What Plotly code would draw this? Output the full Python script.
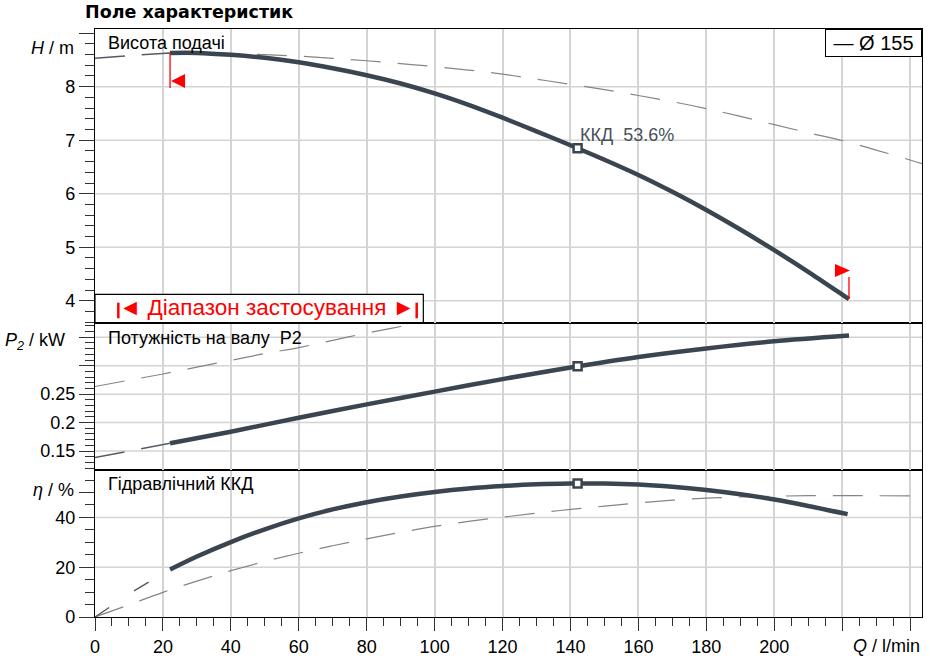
import plotly.graph_objects as go

# Pump curve field, impeller Ø 155, Q in l/min
q_range = [22.1, 222.0]   # operating range (red markers)
q_bep = 142.1             # best efficiency point
h_bep = 6.85
p2_bep = 0.299
eta_bep = 53.6

# Висота подачі, H / m
q_h = [22.1, 30, 40, 50, 60, 70, 80, 90, 100, 110, 120, 130, 140, 150, 160, 170, 180, 190, 200, 210, 220, 222]
h = [8.63, 8.63, 8.595, 8.54, 8.455, 8.345, 8.215, 8.06, 7.875, 7.66, 7.42, 7.165, 6.905, 6.635, 6.35, 6.035,
     5.695, 5.33, 4.945, 4.54, 4.115, 4.03]
q_h_ext = [0, 11, 22.1]
h_ext = [8.53, 8.585, 8.63]
q_h_alt = [20, 30, 40, 50, 60, 70, 80, 90, 100, 110, 120, 130, 140, 150, 160, 170, 180, 190, 200, 210, 220, 230, 240, 244]
h_alt = [8.62, 8.63, 8.62, 8.60, 8.57, 8.53, 8.485, 8.43, 8.375, 8.31, 8.235, 8.14, 8.045, 7.945, 7.835, 7.72,
         7.59, 7.445, 7.29, 7.14, 6.995, 6.815, 6.63, 6.55]

# Потужність на валу P2, kW
q_p = [22.1, 40, 60, 80, 100, 120, 140, 160, 180, 200, 222]
p2 = [0.1636, 0.184, 0.2085, 0.232, 0.2545, 0.2765, 0.297, 0.3155, 0.3305, 0.343, 0.353]
q_p_ext = [0, 11, 22.1]
p2_ext = [0.1385, 0.151, 0.1636]
q_p_alt = [0, 10, 20, 30, 40, 50, 60, 70, 80, 90, 100]
p2_alt = [0.2635, 0.2745, 0.2855, 0.2975, 0.3095, 0.3214, 0.332, 0.3445, 0.3575, 0.369, 0.380]

# Гідравлічний ККД, eta / %
q_eta = [22.1, 30, 40, 50, 60, 70, 80, 90, 100, 110, 120, 130, 140, 150, 160, 170, 180, 190, 200, 210, 221.6]
eta = [19.1, 24.3, 30.1, 35.2, 39.6, 43.2, 46.1, 48.4, 50.2, 51.6, 52.6, 53.3, 53.6, 53.6, 53.2, 52.3, 51.0, 49.3,
       47.2, 44.6, 41.3]
q_eta_ext = [0, 11, 22.1]
eta_ext = [0, 10.1, 19.1]
q_eta_alt = [0, 10, 20, 30, 40, 50, 60, 70, 80, 90, 100, 110, 120, 130, 140, 150, 160, 170, 180, 190, 200, 210,
             220, 230, 244]
eta_alt = [0, 4.9, 9.9, 14.4, 18.6, 22.3, 25.6, 28.6, 31.4, 34.0, 36.4, 38.4, 40.1, 41.7, 43.2, 44.5, 45.8, 46.9,
           47.7, 48.2, 48.5, 48.7, 48.7, 48.7, 48.6]

# axis ticks
x_ticks = [0, 20, 40, 60, 80, 100, 120, 140, 160, 180, 200, 220, 240]
x_ticktext = ["0", "20", "40", "60", "80", "100", "120", "140", "160", "180", "200", "", ""]
h_ticks = [4, 5, 6, 7, 8, 9]
h_ticktext = ["4", "5", "6", "7", "8", ""]
h_grid = [4, 5, 6, 7, 8]
p_ticks = [0.15, 0.2, 0.25, 0.3, 0.35]
p_ticktext = ["0.15", "0.2", "0.25", "", ""]
p_grid = [0.15, 0.2, 0.25, 0.3, 0.35]
eta_ticks = [0, 20, 40, 50]
eta_ticktext = ["0", "20", "40", ""]
eta_grid = [20, 40]

DARK = "#3b4550"
EXT = "#555c63"
GREY = "#858585"
GRID = "#d4d4d4"
RED = "#ff0000"
DASH = "30px,17px"
NB = "\u00a0"

fig = go.Figure()

# top panel (x3 / y3)
fig.add_trace(go.Scatter(x=q_h_alt, y=h_alt, xaxis="x3", yaxis="y3", mode="lines",
                         line=dict(color=GREY, width=1.2, dash=DASH, shape="spline")))
fig.add_trace(go.Scatter(x=q_h_ext, y=h_ext, xaxis="x3", yaxis="y3", mode="lines",
                         line=dict(color=EXT, width=1.4, dash=DASH, shape="spline")))
fig.add_trace(go.Scatter(x=q_h, y=h, xaxis="x3", yaxis="y3", mode="lines",
                         line=dict(color=DARK, width=4.5, shape="spline", smoothing=0.8)))
fig.add_trace(go.Scatter(x=[q_bep], y=[h_bep], xaxis="x3", yaxis="y3", mode="markers",
                         marker=dict(symbol="square", size=8, color="white", line=dict(color=DARK, width=2.5))))

# middle panel (x2 / y2)
fig.add_trace(go.Scatter(x=q_p_alt, y=p2_alt, xaxis="x2", yaxis="y2", mode="lines",
                         line=dict(color=GREY, width=1.2, dash=DASH, shape="spline")))
fig.add_trace(go.Scatter(x=q_p_ext, y=p2_ext, xaxis="x2", yaxis="y2", mode="lines",
                         line=dict(color=EXT, width=1.4, dash=DASH)))
fig.add_trace(go.Scatter(x=q_p, y=p2, xaxis="x2", yaxis="y2", mode="lines",
                         line=dict(color=DARK, width=4.5, shape="spline", smoothing=0.8)))
fig.add_trace(go.Scatter(x=[q_bep], y=[p2_bep], xaxis="x2", yaxis="y2", mode="markers",
                         marker=dict(symbol="square", size=8, color="white", line=dict(color=DARK, width=2.5))))

# bottom panel (x / y)
fig.add_trace(go.Scatter(x=q_eta_alt, y=eta_alt, mode="lines",
                         line=dict(color=GREY, width=1.2, dash=DASH, shape="spline")))
fig.add_trace(go.Scatter(x=q_eta_ext, y=eta_ext, mode="lines",
                         line=dict(color=EXT, width=1.4, dash="17px,30px")))
fig.add_trace(go.Scatter(x=q_eta, y=eta, mode="lines",
                         line=dict(color=DARK, width=4.5, shape="spline", smoothing=0.8)))
fig.add_trace(go.Scatter(x=[q_bep], y=[eta_bep], mode="markers",
                         marker=dict(symbol="square", size=8, color="white", line=dict(color=DARK, width=2.5))))

xbase = dict(range=[0, 243.5], tickvals=x_ticks, showgrid=True, gridcolor=GRID, gridwidth=1.5, automargin=False,
             showline=True, linecolor="black", linewidth=1.2, mirror=True, zeroline=False)
ybase = dict(showgrid=False, showline=True, linecolor="black", linewidth=1.2, mirror=True, zeroline=False,
             ticks="outside", ticklen=15, tickwidth=1.2, tickcolor="#333333", automargin=False,
             tickfont=dict(size=18, color="black"))
minor_style = dict(ticks="outside", ticklen=9, tickwidth=1.2, tickcolor="#333333")

shapes = []
for v in h_grid:
    shapes.append(dict(type="line", xref="x3 domain", yref="y3", x0=0, x1=1, y0=v, y1=v,
                       line=dict(color=GRID, width=1.5), layer="below"))
for v in p_grid:
    shapes.append(dict(type="line", xref="x2 domain", yref="y2", x0=0, x1=1, y0=v, y1=v,
                       line=dict(color=GRID, width=1.5), layer="below"))
for v in eta_grid:
    shapes.append(dict(type="line", xref="x domain", yref="y", x0=0, x1=1, y0=v, y1=v,
                       line=dict(color=GRID, width=1.5), layer="below"))

# operating range markers on the H curve
shapes.append(dict(type="line", xref="x3", yref="y3", x0=q_range[0], x1=q_range[0], ysizemode="pixel",
                   yanchor=h[0], y0=0, y1=-35, line=dict(color=RED, width=1.3)))
shapes.append(dict(type="path", xref="x3", yref="y3", xsizemode="pixel", ysizemode="pixel",
                   xanchor=q_range[0], yanchor=h[0], path="M 1,-28 L 15,-21 L 15,-35 Z",
                   fillcolor=RED, line=dict(width=0)))
shapes.append(dict(type="line", xref="x3", yref="y3", x0=q_range[1], x1=q_range[1], ysizemode="pixel",
                   yanchor=h[-1], y0=0, y1=22, line=dict(color=RED, width=1.3)))
shapes.append(dict(type="path", xref="x3", yref="y3", xsizemode="pixel", ysizemode="pixel",
                   xanchor=q_range[1], yanchor=h[-1], path="M -14,35 L -14,22 L 1,28.5 Z",
                   fillcolor=RED, line=dict(width=0)))

# "Діапазон застосування" box
shapes.append(dict(type="rect", xref="paper", yref="paper", x0=0, x1=0.397, y0=0.5005, y1=0.5488,
                   fillcolor="white", line=dict(color="black", width=1.2), layer="above"))
for xb in [0.0282, 0.389]:
    shapes.append(dict(type="line", xref="paper", yref="paper", x0=xb, x1=xb, y0=0.508, y1=0.5345,
                       line=dict(color=RED, width=2.5), layer="above"))

annotations = [
    dict(text="<b>Поле характеристик</b>", xref="paper", yref="paper", x=-0.0142, y=1.0282,
         xanchor="left", yanchor="middle", showarrow=False,
         font=dict(family="DejaVu Sans", size=17.5, color="black")),
    dict(text="<i>H</i> / m", xref="paper", yref="paper", x=-0.023, y=0.9677,
         xanchor="right", yanchor="middle", showarrow=False),
    dict(text="<i>P</i><sub><i>2</i></sub> / kW", xref="paper", yref="paper", x=-0.0343, y=0.4677,
         xanchor="right", yanchor="middle", showarrow=False),
    dict(text="<i>η</i> / %", xref="paper", yref="paper", x=-0.023, y=0.216,
         xanchor="right", yanchor="middle", showarrow=False),
    dict(text="<i>Q</i> / l/min", xref="paper", yref="paper", x=1.0, y=-0.05,
         xanchor="right", yanchor="middle", showarrow=False),
    dict(text="Висота подачі", xref="paper", yref="paper", x=0.0133, y=0.9974,
         xanchor="left", yanchor="top", showarrow=False),
    dict(text="Потужність на валу" + NB + NB + "P2", xref="paper", yref="paper", x=0.0133, y=0.4957,
         xanchor="left", yanchor="top", showarrow=False),
    dict(text="Гідравлічний ККД", xref="paper", yref="paper", x=0.0133, y=0.2474,
         xanchor="left", yanchor="top", showarrow=False),
    dict(text="ККД" + NB + NB + "%.1f%%" % eta_bep, xref="x3", yref="y3", x=q_bep, y=h_bep,
         xanchor="left", yanchor="bottom", yshift=1, showarrow=False, font=dict(color="#46515c")),
    dict(text=NB + "— Ø 155" + NB, xref="paper", yref="paper", x=1.0, y=1.0,
         xanchor="right", yanchor="top", showarrow=False, bgcolor="white", bordercolor="black",
         borderwidth=1, borderpad=2, font=dict(size=20)),
    dict(text="◄" + NB + "Діапазон застосування" + NB + "►", xref="paper", yref="paper",
         x=0.208, y=0.5262, xanchor="center", yanchor="middle", showarrow=False,
         font=dict(size=22.5, color=RED)),
]

fig.update_layout(
    width=930, height=660,
    margin=dict(l=95, r=8, t=29, b=43),
    paper_bgcolor="white", plot_bgcolor="white",
    showlegend=False,
    font=dict(family="Liberation Sans", size=18, color="black"),
    xaxis=dict(xbase, anchor="y", ticktext=x_ticktext, ticks="outside", ticklen=13, tickwidth=1.2,
               tickcolor="#333333", tickfont=dict(size=18, color="black"),
               minor=dict(minor_style, dtick=5, tick0=0, ticklen=8)),
    xaxis2=dict(xbase, anchor="y2", matches="x", showticklabels=False, ticks=""),
    xaxis3=dict(xbase, anchor="y3", matches="x", showticklabels=False, ticks=""),
    yaxis=dict(ybase, domain=[0, 0.25], range=[0, 59.03], tickvals=eta_ticks, ticktext=eta_ticktext,
               minor=dict(minor_style, dtick=5, tick0=0)),
    yaxis2=dict(ybase, domain=[0.25, 0.5005], range=[0.1166, 0.3757], tickvals=p_ticks, ticktext=p_ticktext,
                minor=dict(minor_style, dtick=0.01, tick0=0)),
    yaxis3=dict(ybase, domain=[0.5005, 1], range=[3.589, 9.078], tickvals=h_ticks, ticktext=h_ticktext,
                minor=dict(minor_style, dtick=0.2, tick0=0)),
    shapes=shapes,
    annotations=annotations,
)

# page body has a default 8 px margin; drop it so the figure fills the window
fig.write_html("out.html", config={"displayModeBar": False},
               post_script="document.body.style.margin = '0px';")
